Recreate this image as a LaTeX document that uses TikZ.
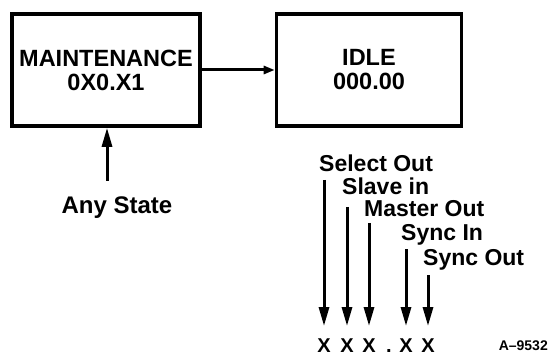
\documentclass[tikz,border=0pt]{standalone}
\usepackage{fontspec}
\setmainfont{Liberation Sans}
\usetikzlibrary{arrows.meta}

\tikzset{
  statebox/.style={draw, line width=3.6pt, minimum width=188pt, minimum height=112pt,
    align=center, font=\fontsize{23.5}{24}\selectfont\bfseries},
  arr/.style={-{Triangle[length=19pt,width=10pt]}, line width=3pt},
  sig/.style={anchor=west, inner sep=0pt, font=\fontsize{23}{24}\selectfont\bfseries},
  bitx/.style={anchor=base, inner sep=0pt, font=\fontsize{20}{20}\selectfont\bfseries}
}

\begin{document}
\begin{tikzpicture}[x=1pt, y=-1pt]
\useasboundingbox (0,0) rectangle (548,355);

% ---- State boxes ----
\node[statebox] (maint) at (106,70) {MAINTENANCE\\0X0.X1};
\node[statebox, minimum width=185pt] (idle) at (369,70) {IDLE\\000.00};
\draw[arr, -{Triangle[length=11pt,width=8pt]}] (maint.east) -- (idle.west);

% ---- Any state entry ----
\node[font=\fontsize{24}{24}\selectfont\bfseries] (any) at (117,208) {Any State};
\coordinate (anytop) at (107,181);
\draw[arr] (anytop) -- (anytop |- maint.south);

% ---- Signal bits below IDLE ----
\foreach \n/\x/\ytop/\ylab/\lab in {1/324/180/163/Select Out, 2/347/207/186/Slave in,
    3/369/223/209/Master Out, 4/406/249/235/Sync In, 5/428/275/260/Sync Out} {
  \node[sig] (lab\n) at (\x-5,\ylab) {\lab};
  \node[bitx] (bit\n) at (\x,352) {X};
  \coordinate (top\n) at (\x,\ytop);
  \draw[arr, shorten >=12pt] (top\n) -- (bit\n.north);
}
\node[bitx] (dot) at (389,352) {.};

% figure number
\node[font=\fontsize{14}{14}\selectfont\bfseries, anchor=base east, inner sep=0pt] (fig) at (548,350) {A--9532};

\end{tikzpicture}
\end{document}
